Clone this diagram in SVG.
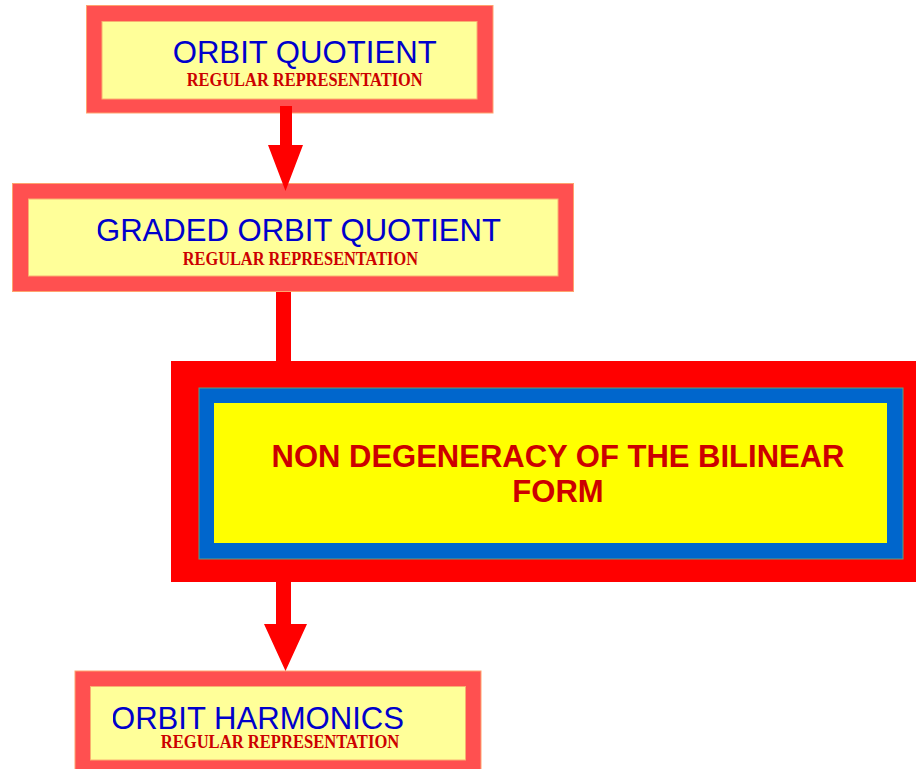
<svg xmlns="http://www.w3.org/2000/svg" width="916" height="769" viewBox="0 0 916 769">
<defs>
<style>
.outer{fill:#ff5050;stroke:#ffa36e;stroke-width:1}
.inner{fill:#ffff99;stroke:#f9b070;stroke-width:1}
.title{font-family:"Liberation Sans",Arial,sans-serif;font-size:31px;fill:#0000cc}
.sub{font-family:"Liberation Serif","Times New Roman",serif;font-weight:bold;font-size:19px;fill:#cc0000}
.big{font-family:"Liberation Sans",Arial,sans-serif;font-weight:bold;font-size:31px;fill:#cc0000;text-anchor:middle}
.conn{fill:#ff0000}
</style>
<clipPath id="clip2"><rect x="97.5" y="199" width="460" height="77"/></clipPath>
<clipPath id="clip4"><rect x="113" y="686" width="352" height="74"/></clipPath>
</defs>
<rect width="916" height="769" fill="#ffffff"/>

<g id="node1">
<rect class="outer" x="86.5" y="5.5" width="406.5" height="107.5"/>
<rect class="inner" x="102" y="21.5" width="375" height="77.5"/>
<text class="title" x="172.7" y="63" textLength="264" lengthAdjust="spacingAndGlyphs">ORBIT QUOTIENT</text>
<text class="sub" x="186.7" y="86" textLength="236" lengthAdjust="spacingAndGlyphs">REGULAR REPRESENTATION</text>
</g>

<g id="node2">
<rect class="outer" x="12.5" y="183.5" width="561" height="108"/>
<rect class="inner" x="28.5" y="199" width="529.5" height="77"/>
<g clip-path="url(#clip2)">
<text class="title" x="96" y="240.7" textLength="405" lengthAdjust="spacingAndGlyphs">GRADED ORBIT QUOTIENT</text>
</g>
<text class="sub" x="182.7" y="265" textLength="235.3" lengthAdjust="spacingAndGlyphs">REGULAR REPRESENTATION</text>
</g>

<g id="node3">
<rect x="171" y="361" width="760" height="221" fill="#ff0000"/>
<rect x="199" y="388" width="704" height="171" fill="#0066cc" stroke="#5f9f7f" stroke-width="1"/>
<rect x="214" y="403" width="673" height="140" fill="#ffff00"/>
<text class="big" x="558" y="466.7">NON DEGENERACY OF THE BILINEAR</text>
<text class="big" x="558" y="501.7">FORM</text>
</g>

<g id="node4">
<rect class="outer" x="75" y="671" width="406" height="104"/>
<rect class="inner" x="90.5" y="686.5" width="375" height="73.5"/>
<g clip-path="url(#clip4)">
<text class="title" x="111" y="729" textLength="293" lengthAdjust="spacingAndGlyphs">ORBIT HARMONICS</text>
</g>
<text class="sub" x="160.7" y="748.3" textLength="238.6" lengthAdjust="spacingAndGlyphs">REGULAR REPRESENTATION</text>
</g>

<g id="connectors">
<polygon class="conn" points="280,106 292,106 292,145 303,145 285.5,191 268,145 280,145"/>
<rect class="conn" x="276" y="292" width="15" height="69"/>
<polygon class="conn" points="276,582 291,582 291,624 307,624 285.5,671 264,624 276,624"/>
</g>
</svg>
